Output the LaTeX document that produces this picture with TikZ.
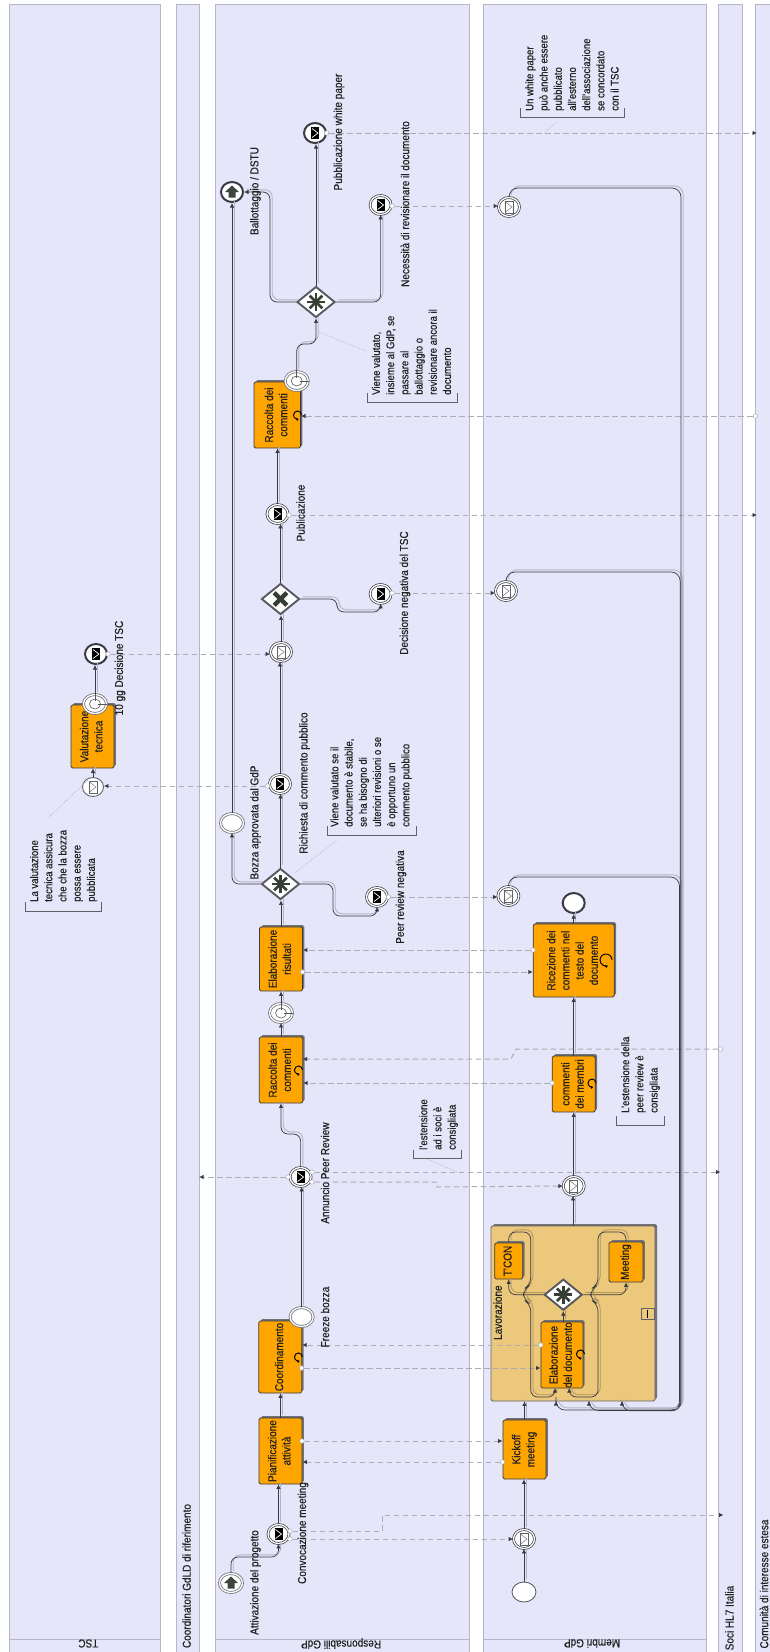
\documentclass[tikz,border=0pt]{standalone}
\usepackage{fontspec}
\setmainfont{Liberation Sans}[FakeBold=0.4,FakeStretch=0.87]
\usetikzlibrary{arrows.meta,shapes.geometric,shadows,calc}
\definecolor{lanefill}{HTML}{E6E6FA}
\definecolor{laneline}{HTML}{B6B6C8}
\definecolor{taskfill}{HTML}{FFA500}
\definecolor{subfill}{HTML}{EBC87C}
\definecolor{darkline}{HTML}{3A3A44}
\definecolor{shadowline}{HTML}{B4B4C4}
\definecolor{msgline}{HTML}{ACACB4}
\definecolor{iconfill}{HTML}{3C463C}
\definecolor{txt}{HTML}{222222}
\tikzset{
  lanebox/.style={fill=lanefill,draw=laneline,line width=.7pt},
  taskbox/.style={draw=darkline,fill=taskfill,rounded corners=1.5pt,line width=.8pt,inner sep=0,
    drop shadow={shadow xshift=1.8pt,shadow yshift=1.8pt,opacity=1,fill=black!55},text=txt},
  subbox/.style={draw=darkline!80,fill=subfill,rounded corners=1.5pt,line width=.8pt,inner sep=0,
    drop shadow={shadow xshift=2pt,shadow yshift=2pt,opacity=1,fill=black!55}},
  evtmid/.style={ellipse,draw=darkline,fill=white,double=white,double distance=1.3pt,line width=.7pt,
    minimum width=21pt,minimum height=19pt,inner sep=0},
  evtstart/.style={ellipse,draw=darkline!80,fill=white,line width=.9pt,minimum width=24pt,minimum height=20pt,inner sep=0},
  evtring/.style={ellipse,draw=darkline!70,fill=white,double=white,double distance=1.3pt,line width=.8pt,minimum width=23pt,minimum height=19pt,inner sep=0},
  evtend/.style={ellipse,draw=darkline,fill=white,line width=2pt,minimum width=22pt,minimum height=20pt,inner sep=0},
  gate/.style={diamond,draw=darkline!85,fill=white,line width=1.9pt,minimum width=38pt,minimum height=31pt,inner sep=0},
  portdot/.style={circle,draw=msgline,fill=white,line width=.5pt,minimum size=4.5pt,inner sep=0},
  seq/.style={draw=darkline,line width=.7pt,rounded corners=7pt,-{Latex[length=4.5pt,width=4.5pt]},
    preaction={draw=shadowline,line width=.9pt,-,transform canvas={shift={(2.2pt,2.2pt)}}}},
  seqin/.style={draw=darkline,line width=.7pt,rounded corners=7pt,-{Latex[length=4.5pt,width=4.5pt]},
    preaction={draw=subfill!75!black,line width=.8pt,-,transform canvas={shift={(2.2pt,2.2pt)}}}},
  msg/.style={draw=msgline,line width=1pt,dash pattern=on 5.5pt off 3.5pt,-{Latex[length=4.5pt,width=4.5pt,color=darkline]}},
  assoc/.style={draw=msgline,line width=.6pt,densely dotted},
  bracket/.style={draw=darkline!80,line width=.6pt},
  lbl/.style={inner sep=0,text=txt,rotate=90},
  lanelbl/.style={inner sep=0,text=txt},
  anno/.style={inner sep=0,text=txt,rotate=90,anchor=west,align=left,font=\fontsize{11}{14.2}\selectfont},
}
\newcommand{\vtxt}[1]{\rotatebox{90}{\begin{tabular}{@{}c@{}}#1\end{tabular}}}
\newcommand{\icthrow}[1]{\fill[black] ($(#1)+(-4,-6)$) rectangle ($(#1)+(4,6)$);
  \draw[white,line width=.7pt] ($(#1)+(-3,-4.5)$) -- ($(#1)+(3,0)$) -- ($(#1)+(-3,4.5)$);}
\newcommand{\iccatch}[1]{\draw[darkline!80,fill=white,line width=.6pt] ($(#1)+(-4,-6)$) rectangle ($(#1)+(4,6)$);
  \draw[darkline!70,line width=.5pt] ($(#1)+(-3.5,-5)$) -- ($(#1)+(3,0)$) -- ($(#1)+(-3.5,5)$);}
\newcommand{\ictimer}[1]{\draw[darkline!85,fill=white,line width=.6pt] (#1) ellipse (5.5pt and 5pt);
  \draw[darkline!85,line width=.6pt] ($(#1)+(0,-3.5)$) -- (#1) -- ($(#1)+(3,0)$);}
\newcommand{\ichouse}[1]{\fill[iconfill] ($(#1)+(0,-6.5)$) -- ($(#1)+(7,0)$) -- ($(#1)+(3.5,0)$) -- ($(#1)+(3.5,5.5)$) -- ($(#1)+(-3.5,5.5)$) -- ($(#1)+(-3.5,0)$) -- ($(#1)+(-7,0)$) -- cycle;}
\newcommand{\icstar}[1]{\foreach \a in {0,45,90,135}{\draw[iconfill!90!black,line width=2.7pt] ($(#1)+(\a:9)$) -- ($(#1)+(\a+180:9)$);}}
\newcommand{\icx}[1]{\foreach \a in {45,135}{\draw[iconfill!90!black,line width=4.4pt] ($(#1)+(\a:9)$) -- ($(#1)+(\a+180:9)$);}}
\newcommand{\loopmark}[3]{\draw[black,line width=1pt,-{Latex[length=2.5pt,width=3.2pt]}] ($(#1,#2)+(#3,0)$) arc (0:-290:#3);}
\begin{document}
\begin{tikzpicture}[x=1pt,y=-1pt,font=\fontsize{11.5}{14.2}\selectfont]
\useasboundingbox (0,0) rectangle (770,1652);
\fill[white] (0,0) rectangle (770,1652);
% lanes
\draw[lanebox] (9,4) rectangle (160.6,1653);
\draw[lanebox] (176,4) rectangle (199.5,1653);
\draw[lanebox] (215.6,4) rectangle (469.5,1653);
\draw[lanebox] (483,4) rectangle (706,1653);
\draw[lanebox] (718.6,4) rectangle (742.6,1653);
\draw[lanebox] (755.4,4) rectangle (771,1653);
\draw[laneline,line width=.7pt] (9,1639) -- (160.6,1639);
\draw[laneline,line width=.7pt] (215.6,1639) -- (469.5,1639);
\draw[laneline,line width=.7pt] (483,1639) -- (706,1639);
\node[lanelbl,rotate=180] (lTSC) at (88.4,1643.5) {TSC};
\node[lanelbl,rotate=180] (lResp) at (341,1643.5) {Responsabili GdP};
\node[lanelbl,rotate=180] (lMem) at (592,1643.5) {Membri GdP};
\node[lbl] (lCoo) at (186.6,1576) {Coordinatori GdLD di riferimento};
\node[lbl] (lSoci) at (729.4,1618) {Soci HL7 Italia};
\node[lbl] (lCom) at (764,1584) {Comunità di interesse estesa};
% subprocess
\node[subbox,minimum width=164pt,minimum height=175pt] (sub) at (573,1313.5) {};
\draw[darkline!80,line width=.7pt,fill=subfill] (641,1308) rectangle (654,1319);
\draw[black,line width=.7pt] (647.5,1309.5) -- (647.5,1317.5);
% tasks
\node[taskbox,minimum width=43pt,minimum height=66pt] (pian) at (280.5,1451) {\vtxt{Pianificazione\\attività}};
\node[taskbox,minimum width=43pt,minimum height=72pt] (coord) at (280.3,1357) {\vtxt{Coordinamento}};
\node[taskbox,minimum width=43pt,minimum height=59pt] (kick) at (524.5,1449.5) {\vtxt{Kickoff\\meeting}};
\node[taskbox,minimum width=28pt,minimum height=36pt] (tcon) at (508.7,1261) {\vtxt{T'CON}};
\node[taskbox,minimum width=34pt,minimum height=40pt] (meet) at (626,1262) {\vtxt{Meeting}};
\node[taskbox,minimum width=42pt,minimum height=66pt] (elabdoc) at (561.9,1355) {\vtxt{Elaborazione\\del documento}};
\node[taskbox,minimum width=43.5pt,minimum height=66pt] (racc1) at (281,1070) {\vtxt{Raccolta dei\\commenti}};
\node[taskbox,minimum width=43pt,minimum height=64pt] (elris) at (281,959) {\vtxt{Elaborazione\\risultati}};
\node[taskbox,minimum width=43pt,minimum height=56pt] (comm) at (573.7,1084) {\vtxt{commenti\\dei membri}};
\node[taskbox,minimum width=81pt,minimum height=73pt] (ric) at (573.7,960.5) {\vtxt{Ricezione dei\\commenti nel\\testo del\\documento}};
\node[taskbox,minimum width=43pt,minimum height=63pt] (valu) at (92.5,736.5) {\vtxt{Valutazione\\tecnica}};
\node[taskbox,minimum width=46.6pt,minimum height=66pt] (racc2) at (277.3,415) {\vtxt{Raccolta dei\\commenti}};
\node (lav) [lbl] at (497.7,1312.6) {Lavorazione};
% loop markers
\loopmark{298.5}{1357}{4}
\loopmark{580.5}{1354}{4}
\loopmark{298.5}{1070}{4}
\loopmark{592}{1083}{4}
\loopmark{606}{960}{6}
\loopmark{297.5}{415}{4}
% events
\node[evtring] (att) at (231,1583) {}; \ichouse{att}
\node[evtmid] (conv) at (278.5,1534) {}; \icthrow{conv}
\node[evtstart] (st2) at (524,1592) {};
\node[evtmid] (cm1) at (524,1539) {}; \iccatch{cm1}
\node[evtring] (fr) at (301.6,1317) {};
\node[evtmid] (annu) at (300.6,1177) {}; \icthrow{annu}
\node[evtmid] (cm2) at (573.7,1186) {}; \iccatch{cm2}
\node[evtring] (tm1) at (281,1013) {}; \ictimer{tm1}
\node[evtring] (boz) at (232,823) {};
\node[evtmid] (pnr) at (377,897) {}; \icthrow{pnr}
\node[evtmid] (cpnr) at (508.4,896) {}; \iccatch{cpnr}
\node[evtend] (endr) at (573.7,903) {};
\node[evtmid] (rich) at (280,784) {}; \icthrow{rich}
\node[evtmid] (cgp) at (281,652) {}; \iccatch{cgp}
\node[evtstart,minimum width=21pt,minimum height=19pt] (cval) at (93,787) {}; \iccatch{cval}
\node[evtring] (tm3) at (95,704) {}; \ictimer{tm3}
\node[evtend] (end1) at (96,654) {}; \icthrow{end1}
\node[evtmid] (dec) at (380.6,594) {}; \icthrow{dec}
\node[evtmid] (cdec) at (506,591) {}; \iccatch{cdec}
\node[evtmid] (pub) at (277.5,514) {}; \icthrow{pub}
\node[evtring] (tm2) at (296.7,381) {}; \ictimer{tm2}
\node[evtend] (ball) at (232,192) {}; \ichouse{ball}
\node[evtend] (wp) at (315,133) {}; \icthrow{wp}
\node[evtmid] (nec) at (380.6,205) {}; \icthrow{nec}
\node[evtmid] (cnec) at (509,207) {}; \iccatch{cnec}
% gateways
\node[gate] (gatei) at (563.3,1294.7) {}; \icstar{gatei}
\node[gate] (gate1) at (280.5,884) {}; \icstar{gate1}
\node[gate] (gatex) at (280.5,599) {}; \icx{gatex}
\node[gate] (gate2) at (316,302) {}; \icstar{gate2}
% ports and free ends
\node[portdot] (p1a) at (290,1531) {};
\node[portdot] (p1b) at (290,1539) {};
\node[portdot] (pa) at (302,1441) {};
\node[portdot] (pb) at (502.5,1462) {};
\node[portdot] (pc) at (301.6,1368) {};
\node[portdot] (pd) at (540.7,1345) {};
\node[portdot] (pe) at (288,1177) {};
\node[portdot] (pf) at (312,1172) {};
\node[portdot] (pg) at (312,1182) {};
\node[portdot] (ph) at (552,1083) {};
\node[portdot] (pi) at (720.5,1049) {};
\node[portdot] (pj) at (302.5,972) {};
\node[portdot] (pk) at (533,950) {};
\node[portdot] (pl) at (388.5,897) {};
\node[portdot] (pm) at (267.5,786) {};
\node[portdot] (pn) at (108,654) {};
\node[portdot] (po) at (392,593) {};
\node[portdot] (pq) at (289,515) {};
\node[portdot] (pr) at (755.4,416) {};
\node[portdot] (ps) at (326.6,133) {};
\node[portdot] (pt) at (392,206) {};
\coordinate (e1) at (723.5,1515);
\coordinate (e2) at (199,1177);
\coordinate (e3) at (720.5,1172);
\coordinate (e4) at (757,515);
\coordinate (e5) at (757,133);
\coordinate (r1b) at (302.5,1059);
\coordinate (sa) at (622,1401);
\coordinate (sb) at (589,1401);
\coordinate (sc) at (556,1401);
\coordinate (ed1) at (555,1388);
\coordinate (ed2) at (569.3,1388);
% message flows
\draw[msg] (p1a) -- (382,1531) -- (382,1515) -- (e1);
\draw[msg] (p1b) -- (cm1.west |- p1b);
\draw[msg] (pa) -- (kick.west |- pa);
\draw[msg] (pb) -- (pian.east |- pb);
\draw[msg] (pc) -- (elabdoc.west |- pc);
\draw[msg] (pd) -- (coord.east |- pd);
\draw[msg] (pe) -- (e2);
\draw[msg] (pf) -- (e3);
\draw[msg] (pg) -- (437,1182) -- (437,1187) -- (cm2.west);
\draw[msg] (ph) -- (racc1.east |- ph);
\draw[msg] (pi) -- (516,1049) -- (511,1059) -- (r1b);
\draw[msg] (pj) -- (ric.west |- pj);
\draw[msg] (pk) -- (elris.east |- pk);
\draw[msg] (pl) -- (cpnr.west |- pl);
\draw[msg] (pm) -- (cval.east |- pm);
\draw[msg] (pn) -- (cgp.west |- pn);
\draw[msg] (po) -- (cdec.west |- po);
\draw[msg] (pq) -- (e4);
\draw[msg] (pr) -- (racc2.east |- pr);
\draw[msg] (ps) -- (e5);
\draw[msg] (pt) -- (cnec.west |- pt);
% sequence flows
\draw[seq] (att.north) -- (231,1557) -- (278.5,1557) -- (conv.south);
\draw[seq] (conv.north) -- (conv.north |- pian.south);
\draw[seq] (pian.north) -- (pian.north |- coord.south);
\draw[seq] (st2.north) -- (cm1.south);
\draw[seq] (cm1.north) -- (cm1.north |- kick.south);
\draw[seq] (kick.north) -- (kick.north |- sub.south);
\draw[seq] (sub.north) -- (sub.north |- cm2.south);
\draw[seq] (cm2.north) -- (cm2.north |- comm.south);
\draw[seq] (comm.north) -- (comm.north |- ric.south);
\draw[seq] (ric.north) -- (ric.north |- endr.south);
\draw[seq] (fr.north) -- (fr.north |- annu.south);
\draw[seq] (annu.north) -- (300.6,1134) -- (281,1134) -- (racc1.south);
\draw[seq] (racc1.north) -- (tm1.south);
\draw[seq] (tm1.north) -- (elris.south);
\draw[seq] (elris.north) -- (elris.north |- gate1.south);
\draw[seq] (gate1.west) -- (232,884) -- (boz.south);
\draw[seq] (boz.north) -- (ball.south);
\draw[seq] (gate1.east) -- (333,884) -- (333,916) -- (377,916) -- (pnr.south);
\draw[seq] (gate1.north) -- (gate1.north |- rich.south);
\draw[seq] (rich.north) -- (rich.north |- cgp.south);
\draw[seq] (cgp.north) -- (cgp.north |- gatex.south);
\draw[seq] (gatex.east) -- (337,599) -- (337,612) -- (380.6,612) -- (dec.south);
\draw[seq] (gatex.north) -- (gatex.north |- pub.south);
\draw[seq] (pub.north) -- (pub.north |- racc2.south);
\draw[seq] (cval.north) -- (cval.north |- valu.south);
\draw[seq] (tm3.north) -- (tm3.north |- end1.south);
\draw[seq] (tm2.north) -- (296.7,344) -- (316,344) -- (gate2.south);
\draw[seq] (gate2.north) -- (gate2.north |- wp.south);
\draw[seq] (gate2.west) -- (270,302) -- (270,192) -- (ball.east);
\draw[seq] (gate2.east) -- (380.6,302) -- (nec.south);
\draw[seq,rounded corners=9pt] (cpnr.north) -- (508.4,877) -- (679.5,877) -- (679.5,1410) -- (556,1410) -- (sc);
\draw[seq,rounded corners=9pt] (cdec.north) -- (506,572) -- (680.2,572) -- (680.2,1410.4) -- (589,1410.4) -- (sb);
\draw[seq,rounded corners=9pt] (cnec.north) -- (509,188) -- (681,188) -- (681,1410.8) -- (622,1410.8) -- (sa);
\draw[seqin] (gatei.south |- elabdoc.north) -- (gatei.south);
\draw[seqin] (gatei.west) -- (508.7,1294.7) -- (tcon.south);
\draw[seqin] (gatei.east) -- (626,1294.7) -- (meet.south);
\draw[seqin] (tcon.north) -- (508.7,1232) -- (530.7,1232) -- (530.7,1285) -- (523.5,1289) -- (523.5,1300) -- (530.7,1304) -- (530.7,1397) -- (555,1397) -- (ed1);
\draw[seqin] (meet.north) -- (626,1232) -- (598,1232) -- (598,1285) -- (590.8,1289) -- (590.8,1300) -- (598,1304) -- (598,1397) -- (569.3,1397) -- (ed2);
% labels
\node[lbl] (t1) at (255.4,1582.5) {Attivazione del progetto};
\node[lbl] (t2) at (303,1533) {Convocazione meeting};
\node[lbl] (t3) at (325,1317) {Freeze bozza};
\node[lbl] (t4) at (325,1173) {Annuncio Peer Review};
\node[lbl] (t5) at (255.4,822.5) {Bozza approvata dal GdP};
\node[lbl] (t6) at (304.5,783) {Richiesta di commento pubblico};
\node[lbl] (t7) at (401,897) {Peer review negativa};
\node[lbl] (t8) at (405,593) {Decisione negativa del TSC};
\node[lbl] (t9) at (300.6,513) {Publicazione};
\node[lbl] (t10) at (255.4,191) {Ballottaggio / DSTU};
\node[lbl] (t11) at (339,132) {Pubblicazione white paper};
\node[lbl] (t12) at (405,204) {Necessità di revisionare il documento};
\node[lbl] (t13) at (120,668) {10 gg Decisione TSC};
% annotations
\node[anno] (a1) at (63.6,902) {La valutazione\\tecnica assicura\\che che la bozza\\possa essere\\pubblicata};
\draw[bracket] (25.5,902) -- (25.5,911) -- (101.7,911) -- (101.7,902);
\coordinate (a1f) at (49,817); \coordinate (a1t) at (88,780);
\draw[assoc] (a1f) -- (a1t);
\node[anno] (a2) at (371,827) {Viene valutato se il\\documento è stabile,\\se ha bisogno di\\ulteriori revisioni o se\\è opportuno un\\commento pubblico};
\draw[bracket] (327,826) -- (327,835) -- (416,835) -- (416,826);
\coordinate (a2f) at (337,840); \coordinate (a2t) at (294.7,873);
\draw[assoc] (a2f) -- (a2t);
\node[anno] (a3) at (438.6,1150) {l'estensione\\ad i soci  è\\consigliata};
\draw[bracket] (413.5,1150) -- (413.5,1158.7) -- (461.7,1158.7) -- (461.7,1150);
\coordinate (a3f) at (427,1159); \coordinate (a3t) at (457,1172);
\draw[assoc] (a3f) -- (a3t);
\node[anno] (a4) at (640.5,1113) {L'estensione della\\peer review è\\consigliata};
\draw[bracket] (616.4,1116) -- (616.4,1125) -- (664.5,1125) -- (664.5,1116);
\node[anno] (a5) at (411.5,395) {Viene valutato,\\insieme al GdP, se\\passare al\\ballottaggio o\\revisionare ancora il\\documento};
\draw[bracket] (367.4,393) -- (367.4,402) -- (456.8,402) -- (456.8,393);
\coordinate (a5f) at (366,351); \coordinate (a5t) at (319,332);
\draw[assoc] (a5f) -- (a5t);
\node[anno] (a6) at (572,111) {Un white paper\\può anche essere\\pubblicato\\all'esterno\\dell'associazione\\se concordato\\con il TSC};
\draw[bracket] (520.6,108) -- (520.6,117.7) -- (623.8,117.7) -- (623.8,108);
\coordinate (a6f) at (556,122.7); \coordinate (a6t) at (544,133);
\draw[assoc] (a6f) -- (a6t);
\end{tikzpicture}
\end{document}
